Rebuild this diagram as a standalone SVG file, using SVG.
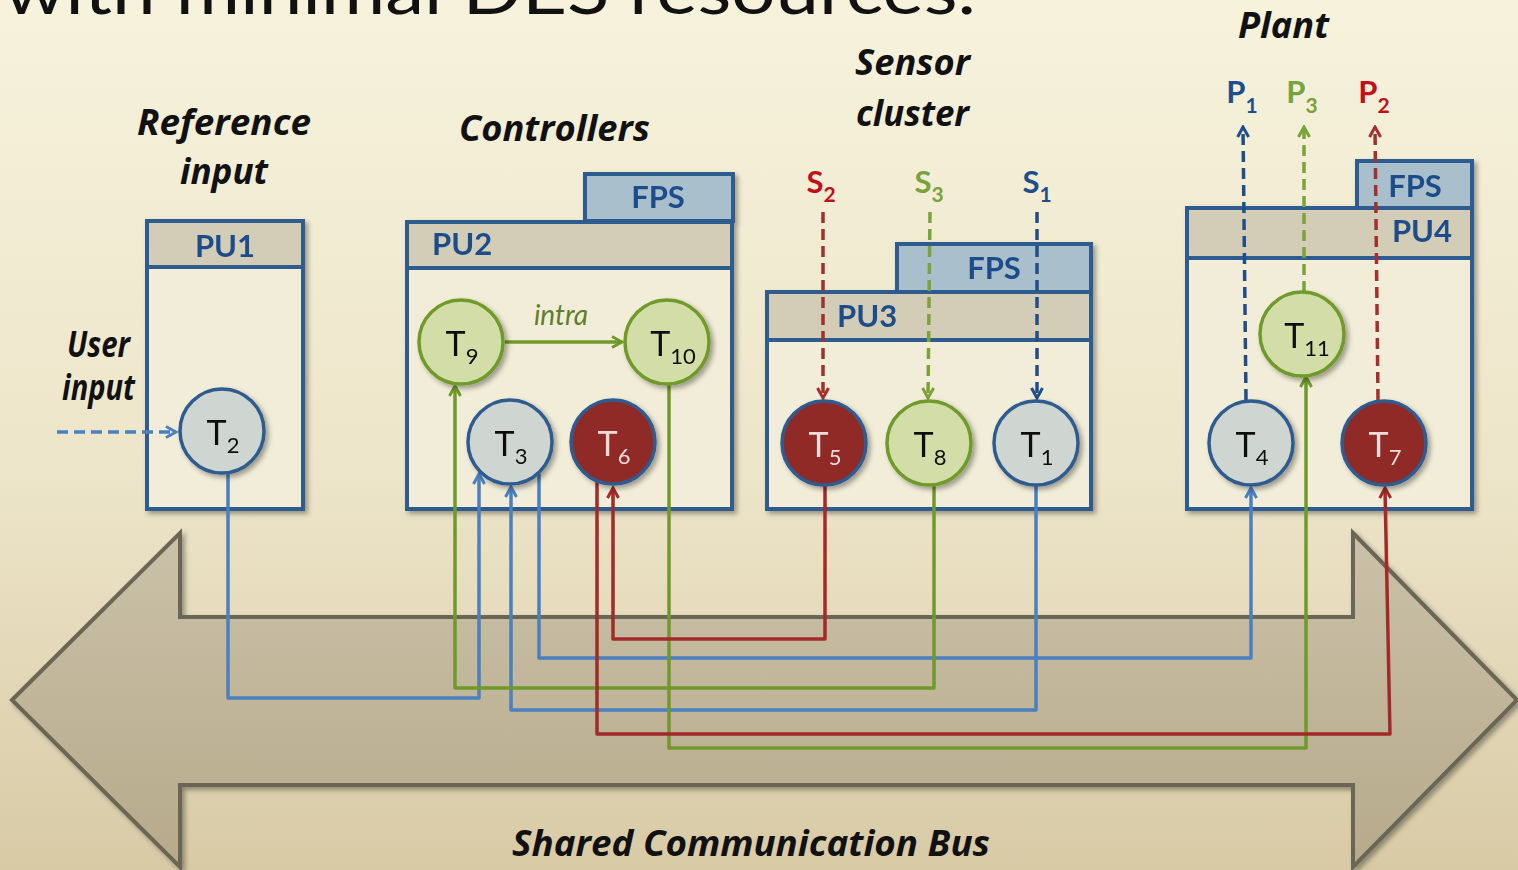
<svg xmlns="http://www.w3.org/2000/svg" width="1518" height="870" viewBox="0 0 1518 870">
<defs>
<linearGradient id="bg" x1="0" y1="0" x2="0" y2="1">
<stop offset="0" stop-color="#f6f2dc"/>
<stop offset="0.55" stop-color="#ede5c9"/>
<stop offset="1" stop-color="#d8caa5"/>
</linearGradient>
<linearGradient id="busfill" x1="0" y1="0" x2="0" y2="1">
<stop offset="0" stop-color="#cac1a8"/>
<stop offset="1" stop-color="#b7aa8b"/>
</linearGradient>
<filter id="sh" x="-20%" y="-20%" width="140%" height="140%">
<feDropShadow dx="3" dy="3" stdDeviation="2.5" flood-color="#000" flood-opacity="0.35"/>
</filter>
<marker id="mBlue" viewBox="0 0 14 14" refX="12" refY="7" markerWidth="14" markerHeight="14" markerUnits="userSpaceOnUse" orient="auto"><path d="M2,1.5 L12,7 L2,12.5" fill="none" stroke="#4a7fc0" stroke-width="3"/></marker>
<marker id="mGreen" viewBox="0 0 14 14" refX="12" refY="7" markerWidth="14" markerHeight="14" markerUnits="userSpaceOnUse" orient="auto"><path d="M2,1.5 L12,7 L2,12.5" fill="none" stroke="#6f9a2a" stroke-width="3"/></marker>
<marker id="mRed" viewBox="0 0 14 14" refX="12" refY="7" markerWidth="14" markerHeight="14" markerUnits="userSpaceOnUse" orient="auto"><path d="M2,1.5 L12,7 L2,12.5" fill="none" stroke="#a22a28" stroke-width="3"/></marker>
<marker id="mDBlue" viewBox="0 0 14 14" refX="12" refY="7" markerWidth="14" markerHeight="14" markerUnits="userSpaceOnUse" orient="auto"><path d="M2,1.5 L12,7 L2,12.5" fill="none" stroke="#1f4e8a" stroke-width="3"/></marker>
<marker id="mLGreen" viewBox="0 0 14 14" refX="12" refY="7" markerWidth="14" markerHeight="14" markerUnits="userSpaceOnUse" orient="auto"><path d="M2,1.5 L12,7 L2,12.5" fill="none" stroke="#7ba33c" stroke-width="3"/></marker>
<marker id="mDRed" viewBox="0 0 14 14" refX="12" refY="7" markerWidth="14" markerHeight="14" markerUnits="userSpaceOnUse" orient="auto"><path d="M2,1.5 L12,7 L2,12.5" fill="none" stroke="#a3302c" stroke-width="3"/></marker>
<style>
.title{font-family:"Open Sans",Lato,"Liberation Sans",sans-serif;font-weight:bold;font-style:italic;font-size:35px;fill:#111;}
.body{fill:#f2edd8;stroke:#2f5b8f;stroke-width:4;}
.hdr{fill:#d3cdb8;stroke:#2f5b8f;stroke-width:4;}
.fps{fill:#a9bfcb;stroke:#2f5b8f;stroke-width:4;}
.pu{font-family:Lato,"Liberation Sans",sans-serif;font-weight:bold;font-size:31px;fill:#1f4e8a;}
.cg{fill:#cfd6d1;stroke:#2f5b8f;stroke-width:3.5;}
.cgr{fill:#d2dda7;stroke:#6f9a2a;stroke-width:3.5;}
.cr{fill:#8f2b27;stroke:#2f5b8f;stroke-width:3.5;}
.tt{font-family:Lato,"Liberation Sans",sans-serif;font-size:34px;fill:#111;text-anchor:middle;}
.tw{fill:#f0dcd8;}
.sub{font-size:22px;}
.lab{font-family:Lato,"Liberation Sans",sans-serif;font-weight:bold;font-size:31px;text-anchor:middle;}
.lsub{font-size:21px;}
.conn{fill:none;stroke-width:3.5;stroke-linejoin:round;}
.dash{fill:none;stroke-width:3.5;stroke-dasharray:11 6;}
</style>
</defs>

<rect x="0" y="0" width="1518" height="870" fill="url(#bg)"/>

<text x="4" y="14" font-family="Lato,'Liberation Sans',sans-serif" font-size="66" fill="#111" textLength="972" lengthAdjust="spacingAndGlyphs">with minimal DES resources.</text>

<g id="bus">
<polygon points="12,700 180,533 180,617 1353,617 1353,533 1517,700 1353,867 1353,785 180,785 180,867" fill="url(#busfill)" stroke="#6b6656" stroke-width="4" stroke-linejoin="miter" filter="url(#sh)"/>
<text x="512" y="856" class="title" textLength="478" lengthAdjust="spacingAndGlyphs">Shared Communication Bus</text>
</g>

<g id="labels">
<text x="137" y="135" class="title" textLength="174" lengthAdjust="spacingAndGlyphs">Reference</text>
<text x="180" y="184" class="title" textLength="88" lengthAdjust="spacingAndGlyphs">input</text>
<text x="459" y="141" class="title" textLength="191" lengthAdjust="spacingAndGlyphs">Controllers</text>
<text x="855" y="75" class="title" textLength="115" lengthAdjust="spacingAndGlyphs">Sensor</text>
<text x="856" y="126" class="title" textLength="113" lengthAdjust="spacingAndGlyphs">cluster</text>
<text x="1238" y="38" class="title" textLength="91" lengthAdjust="spacingAndGlyphs">Plant</text>
<text x="67" y="357" class="title" font-size="27" textLength="63" lengthAdjust="spacingAndGlyphs">User</text>
<text x="62" y="400" class="title" font-size="27" textLength="73" lengthAdjust="spacingAndGlyphs">input</text>
</g>

<g id="PU1" filter="url(#sh)">
<rect x="147" y="221" width="156" height="288" class="body"/>
<rect x="147" y="221" width="156" height="46" class="hdr"/>
<text x="225" y="257" class="pu" text-anchor="middle">PU1</text>
</g>

<g id="PU2" filter="url(#sh)">
<rect x="585" y="174" width="148" height="47" class="fps"/>
<text x="658" y="208" class="pu" text-anchor="middle">FPS</text>
<rect x="407" y="222" width="325" height="287" class="body"/>
<rect x="407" y="222" width="325" height="46" class="hdr"/>
<text x="432" y="255" class="pu">PU2</text>
</g>

<g id="PU3" filter="url(#sh)">
<rect x="897" y="244" width="194" height="48" class="fps"/>
<text x="994" y="279" class="pu" text-anchor="middle">FPS</text>
<rect x="767" y="292" width="324" height="217" class="body"/>
<rect x="767" y="292" width="324" height="48" class="hdr"/>
<text x="837" y="327" class="pu">PU3</text>
</g>

<g id="PU4" filter="url(#sh)">
<rect x="1357" y="161" width="115" height="47" class="fps"/>
<text x="1415" y="197" class="pu" text-anchor="middle">FPS</text>
<rect x="1187" y="208" width="285" height="301" class="body"/>
<rect x="1187" y="208" width="285" height="50" class="hdr"/>
<text x="1422" y="242" class="pu" text-anchor="middle">PU4</text>
</g>

<g id="connectors">
<path class="dash" stroke="#4a7fc0" d="M57,432 H176" marker-end="url(#mBlue)"/>
<path class="conn" stroke="#6f9a2a" stroke-width="2.5" d="M505,342 H622" marker-end="url(#mGreen)"/>
<text x="561" y="325" font-family="Lato,'Liberation Sans',sans-serif" font-style="italic" font-size="28" fill="#5f7f2a" text-anchor="middle">intra</text>

<path class="dash" stroke="#a3302c" d="M823,212 V398" marker-end="url(#mDRed)"/>
<path class="dash" stroke="#7ba33c" d="M930,212 L928,398" marker-end="url(#mLGreen)"/>
<path class="dash" stroke="#1f4e8a" d="M1037,212 V398" marker-end="url(#mDBlue)"/>

<path class="dash" stroke="#1f4e8a" d="M1246,400 L1243,127" marker-end="url(#mDBlue)"/>
<path class="dash" stroke="#7ba33c" d="M1304,292 V127" marker-end="url(#mLGreen)"/>
<path class="dash" stroke="#a3302c" d="M1378,400 L1375,127" marker-end="url(#mDRed)"/>

<path class="conn" stroke="#4a7fc0" d="M228,474 V698 H479 V474" marker-end="url(#mBlue)"/>
<path class="conn" stroke="#4a7fc0" d="M1036,486 V710 H511 V487" marker-end="url(#mBlue)"/>
<path class="conn" stroke="#4a7fc0" d="M539,474 V658 H1251 V488" marker-end="url(#mBlue)"/>
<path class="conn" stroke="#6f9a2a" d="M934,486 V688 H455 V386" marker-end="url(#mGreen)"/>
<path class="conn" stroke="#6f9a2a" d="M669,385 V748 H1306 V377" marker-end="url(#mGreen)"/>
<path class="conn" stroke="#a22a28" d="M825,486 V639 H613 V488" marker-end="url(#mRed)"/>
<path class="conn" stroke="#a22a28" d="M597,482 V734 H1390 L1385,488" marker-end="url(#mRed)"/>
</g>

<g id="T2" filter="url(#sh)"><circle cx="222" cy="431" r="42" class="cg"/><text x="223" y="445" class="tt">T<tspan class="sub" dy="8">2</tspan></text></g>
<g id="T9" filter="url(#sh)"><circle cx="461" cy="342" r="42" class="cgr"/><text x="462" y="356" class="tt">T<tspan class="sub" dy="8">9</tspan></text></g>
<g id="T10" filter="url(#sh)"><circle cx="667" cy="342" r="42" class="cgr"/><text x="673" y="356" class="tt">T<tspan class="sub" dy="8">10</tspan></text></g>
<g id="T3" filter="url(#sh)"><circle cx="510" cy="442" r="42" class="cg"/><text x="511" y="456" class="tt">T<tspan class="sub" dy="8">3</tspan></text></g>
<g id="T6" filter="url(#sh)"><circle cx="613" cy="442" r="42" class="cr"/><text x="614" y="456" class="tt tw">T<tspan class="sub" dy="8">6</tspan></text></g>
<g id="T5" filter="url(#sh)"><circle cx="824" cy="443" r="42" class="cr"/><text x="825" y="457" class="tt tw">T<tspan class="sub" dy="8">5</tspan></text></g>
<g id="T8" filter="url(#sh)"><circle cx="929" cy="443" r="42" class="cgr"/><text x="930" y="457" class="tt">T<tspan class="sub" dy="8">8</tspan></text></g>
<g id="T1" filter="url(#sh)"><circle cx="1036" cy="443" r="42" class="cg"/><text x="1037" y="457" class="tt">T<tspan class="sub" dy="8">1</tspan></text></g>
<g id="T11" filter="url(#sh)"><circle cx="1302" cy="334" r="42" class="cgr"/><text x="1307" y="348" class="tt">T<tspan class="sub" dy="8">11</tspan></text></g>
<g id="T4" filter="url(#sh)"><circle cx="1251" cy="443" r="42" class="cg"/><text x="1252" y="457" class="tt">T<tspan class="sub" dy="8">4</tspan></text></g>
<g id="T7" filter="url(#sh)"><circle cx="1384" cy="443" r="42" class="cr"/><text x="1385" y="457" class="tt tw">T<tspan class="sub" dy="8">7</tspan></text></g>

<g id="sensors">
<text x="821" y="193" class="lab" fill="#c0101a">S<tspan class="lsub" dy="9">2</tspan></text>
<text x="929" y="193" class="lab" fill="#77a33a">S<tspan class="lsub" dy="9">3</tspan></text>
<text x="1037" y="193" class="lab" fill="#1f4e8a">S<tspan class="lsub" dy="9">1</tspan></text>
</g>
<g id="plant-outputs">
<text x="1242" y="103" class="lab" fill="#1f4e8a">P<tspan class="lsub" dy="10">1</tspan></text>
<text x="1302" y="103" class="lab" fill="#77a33a">P<tspan class="lsub" dy="10">3</tspan></text>
<text x="1374" y="103" class="lab" fill="#c0101a">P<tspan class="lsub" dy="10">2</tspan></text>
</g>
</svg>
